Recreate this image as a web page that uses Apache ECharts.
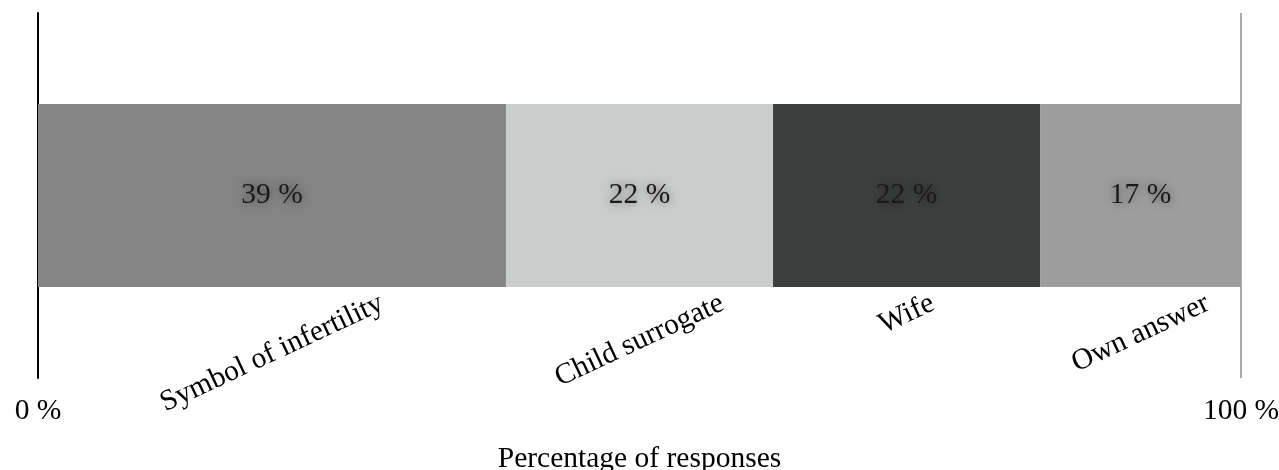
<!DOCTYPE html>
<html><head><meta charset="utf-8">
<script src="https://cdn.jsdelivr.net/npm/echarts@6/dist/echarts.min.js"></script>
<style>html,body{margin:0;padding:0;background:#fff;}#c{width:1279px;height:470px;}</style>
</head><body><div id="c"></div>
<script>
var categories = ['Symbol of infertility', 'Child surrogate', 'Wife', 'Own answer'];
var values = [38.9, 22.2, 22.2, 16.7];
var colors = ['#838483', '#cbcdcc', '#3d3f3e', '#9c9d9c'];
var xTicks = [0, 100];
var xAxisTitle = 'Percentage of responses';

var FONT = '"Liberation Serif", "Times New Roman", serif';
var FS = 29.5;
var ANGLE = 25 * Math.PI / 180;
var BAR_W = 183;

var mctx = document.createElement('canvas').getContext('2d');
mctx.font = FS + 'px ' + FONT;
function textW(t) { return mctx.measureText(t).width; }

var chart = echarts.init(document.getElementById('c'), null, {renderer: 'canvas'});

var series = categories.map(function (name, i) {
  return {
    name: name, type: 'bar', stack: 'total', barWidth: BAR_W,
    data: [values[i]],
    itemStyle: {color: colors[i]},
    label: {
      show: true, position: 'inside',
      formatter: function (p) { return Math.round(p.value) + ' %'; },
      fontFamily: FONT, fontSize: FS, color: '#1a1a1a',
      textShadowColor: 'rgba(0,0,0,0.5)', textShadowBlur: 8
    }
  };
});

var cum = 0;
var labelData = categories.map(function (name, i) {
  var mid = cum + values[i] / 2;
  cum += values[i];
  return [mid, 0, name];
});

series.push({
  type: 'custom', name: 'catLabels', silent: true,
  encode: {x: 0, y: 1},
  data: labelData,
  renderItem: function (params, api) {
    var pt = api.coord([api.value(0), api.value(1)]);
    var name = categories[params.dataIndex];
    var w = textW(name), h = FS * 0.9;
    var vext = w * Math.sin(ANGLE) + h * Math.cos(ANGLE);
    var top = pt[1] + BAR_W / 2 + 3;
    return {
      type: 'text', x: pt[0], y: top + vext / 2, rotation: ANGLE,
      style: {text: name, x: 0, y: 0, align: 'center', verticalAlign: 'middle',
        font: FS + 'px ' + FONT, fill: '#000'}
    };
  }
});

chart.setOption({
  animation: false,
  backgroundColor: '#fff',
  grid: {left: 38, right: 38, top: 13, bottom: 92, containLabel: false, outerBoundsMode: 'none'},
  xAxis: {
    type: 'value', min: xTicks[0], max: xTicks[xTicks.length - 1], interval: 100,
    axisLine: {show: false}, axisTick: {show: false},
    splitLine: {show: true, lineStyle: {color: '#aaaaaa', width: 2}},
    axisLabel: {formatter: '{value} %', fontFamily: FONT, fontSize: FS, color: '#000', margin: 18},
    name: xAxisTitle, nameLocation: 'middle', nameGap: 66,
    nameTextStyle: {fontFamily: FONT, fontSize: FS, color: '#000'}
  },
  yAxis: {
    type: 'category', data: [''],
    axisLine: {show: true, lineStyle: {color: '#000', width: 2}},
    axisTick: {show: false}, axisLabel: {show: false}
  },
  series: series
});
</script>
</body></html>
